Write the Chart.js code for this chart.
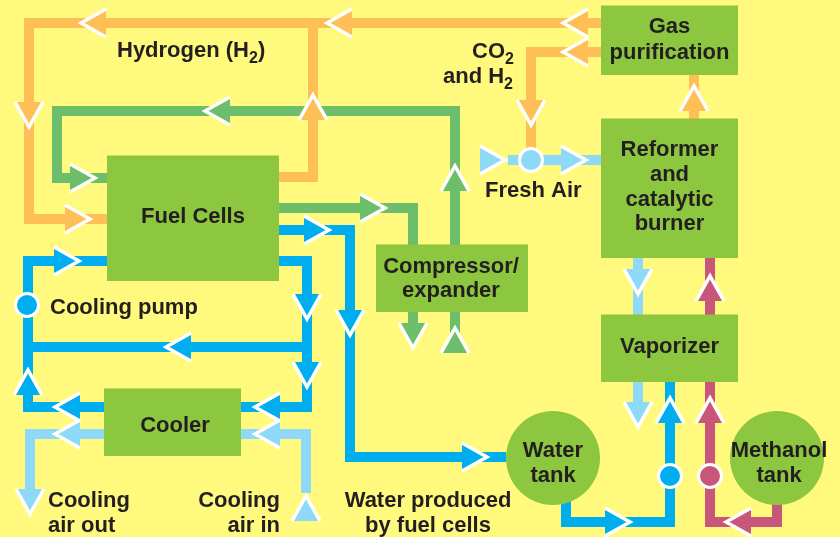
<!DOCTYPE html>
<html>
<head>
<meta charset="utf-8">
<script src="https://cdn.jsdelivr.net/npm/chart.js@4/dist/chart.umd.min.js"></script>
<style>
  html, body { margin: 0; padding: 0; background: #FFFA7D; overflow: hidden; }
  #wrap { width: 840px; height: 537px; }
  canvas { display: block; }
</style>
</head>
<body>
<div id="wrap"><canvas id="diagram" width="840" height="537"></canvas></div>
<script>
// diagram units follow the 840x537 drawing, y grows downward

// process blocks
const boxNames  = ["Gas purification", "Reformer", "Vaporizer", "Fuel Cells", "Compressor", "Cooler"];
const boxLeft   = [601, 601, 601, 107, 376, 104];
const boxTop    = [6, 119, 315, 156, 245, 389];
const boxRight  = [738, 738, 738, 279, 528, 241];
const boxBottom = [75, 258, 382, 281, 312, 456];

// storage tanks
const tankNames = ["Water tank", "Methanol tank"];
const tankX = [553, 777];
const tankY = [458, 458];

// pipes, one list per medium
const hydrogenPipes = [
  [[601,23],[29,23],[29,219],[107,219]],
  [[279,177],[313,177],[313,23]],
  [[601,52],[531,52],[531,150]],
  [[694,119],[694,75]]
];
const airPipes = [
  [[455,245],[455,111],[57,111],[57,178],[107,178]],
  [[279,208],[413,208],[413,245]],
  [[413,312],[413,340]],
  [[455,312],[455,335]]
];
const waterPipes = [
  [[104,407],[28,407],[28,261],[107,261]],
  [[279,261],[307,261],[307,407],[241,407]],
  [[307,347],[28,347]],
  [[279,230],[350,230],[350,457],[506,457]],
  [[566,495],[566,522],[670,522],[670,382]]
];
const lightPipes = [
  [[508,160],[601,160]],
  [[638,258],[638,315]],
  [[638,382],[638,412]],
  [[306,493],[306,434],[241,434]],
  [[104,434],[30,434],[30,495]]
];
const methanolPipes = [
  [[710,315],[710,258]],
  [[777,495],[777,522],[710,522],[710,382]]
];

// arrow tips: x, y, direction
const hydrogenArrows = [[78,23,"L"],[29,130,"D"],[93,219,"R"],[313,92,"U"],[324,23,"L"],[560,23,"L"],[560,52,"L"],[531,128,"D"],[694,83,"U"]];
const airArrows      = [[455,163,"U"],[202,111,"L"],[98,178,"R"],[388,208,"R"],[413,351,"D"],[455,325,"U"]];
const waterArrows    = [[82,261,"R"],[28,367,"U"],[52,407,"L"],[163,347,"L"],[307,322,"D"],[307,390,"D"],[252,407,"L"],[332,230,"R"],[350,338,"D"],[490,457,"R"],[633,522,"R"],[670,395,"U"]];
const lightArrows    = [[508,160,"R"],[589,160,"R"],[638,297,"D"],[638,430,"D"],[306,493,"U"],[252,434,"L"],[52,434,"L"],[30,517,"D"]];
const methanolArrows = [[710,273,"U"],[723,522,"L"],[710,395,"U"]];

// pumps
const pumpX    = [27, 531, 670, 710];
const pumpY    = [305, 160, 476, 476];
const pumpFlow = ["water", "light", "water", "methanol"];

// text: {n} marks a subscript digit
const labelText  = ["Hydrogen (H{2})", "CO{2}", "and H{2}", "Gas", "purification", "Reformer", "and", "catalytic", "burner",
                    "Fresh Air", "Fuel Cells", "Compressor/", "expander", "Cooling pump", "Vaporizer", "Cooler",
                    "Cooling", "air out", "Cooling", "air in", "Water produced", "by fuel cells", "Water", "tank", "Methanol", "tank"];
const labelX     = [117, 472, 443, 669.5, 669.5, 669.5, 669.5, 669.5, 669.5, 485, 193, 451, 451, 50, 669.5, 175,
                    48, 48, 280, 280, 428, 428, 553, 553, 779, 779];
const labelY     = [57, 58, 83, 33, 59, 156, 181, 205.5, 230, 197, 223, 273, 297, 314, 353, 432,
                    507, 532, 507, 532, 507, 532, 457, 482, 457, 482];
const labelAlign = ["left", "left", "left", "center", "center", "center", "center", "center", "center", "left", "center", "center", "center", "left", "center", "center",
                    "left", "left", "right", "right", "center", "center", "center", "center", "center", "center"];

const COLORS = {
  box: "#8DC63F",
  hydrogen: "#FEBF57",
  air: "#6CBE6B",
  water: "#00AEEF",
  light: "#8ED8F8",
  methanol: "#C8567B",
  text: "#231F20"
};
const FONT = "bold 22px 'Liberation Sans', Arial, sans-serif";
const SUB_FONT = "bold 16px 'Liberation Sans', Arial, sans-serif";
const ROT = { R: 0, D: 90, L: 180, U: 270 };

const datasets = [];

function pipeSet(paths, color) {
  paths.forEach(p => datasets.push({
    data: p.map(([x, y]) => ({ x, y })),
    showLine: true,
    borderColor: color,
    borderWidth: 10,
    borderJoinStyle: "miter",
    borderCapStyle: "butt",
    pointRadius: 0,
    fill: false,
    order: 5
  }));
}

// chevron arrowhead, tip sits in the middle of the canvas
function arrowImg(color) {
  const c = document.createElement("canvas");
  c.width = 64; c.height = 40;
  const g = c.getContext("2d");
  g.beginPath();
  g.moveTo(4, 6); g.lineTo(29, 20); g.lineTo(4, 34); g.closePath();
  g.fillStyle = color;
  g.fill();
  g.beginPath();
  g.moveTo(4, 6); g.lineTo(29, 20); g.lineTo(4, 34);
  g.strokeStyle = "#fff";
  g.lineWidth = 3.5;
  g.lineJoin = "miter";
  g.stroke();
  return c;
}

function arrowSet(list, color) {
  datasets.push({
    data: list.map(([x, y]) => ({ x, y })),
    pointStyle: arrowImg(color),
    pointRadius: 1,
    pointRotation: list.map(a => ROT[a[2]]),
    order: 1
  });
}

pipeSet(hydrogenPipes, COLORS.hydrogen);
pipeSet(airPipes, COLORS.air);
pipeSet(waterPipes, COLORS.water);
pipeSet(lightPipes, COLORS.light);
pipeSet(methanolPipes, COLORS.methanol);

boxNames.forEach((name, i) => datasets.push({
  label: name,
  data: [{ x: boxLeft[i], y: boxTop[i] }, { x: boxRight[i], y: boxTop[i] }],
  showLine: true,
  borderColor: COLORS.box,
  borderWidth: 1,
  backgroundColor: COLORS.box,
  fill: { value: boxBottom[i] },
  pointRadius: 0,
  order: 3
}));

datasets.push({
  label: "tanks",
  data: tankNames.map((n, i) => ({ x: tankX[i], y: tankY[i] })),
  pointStyle: "circle",
  pointRadius: 47,
  pointBackgroundColor: COLORS.box,
  pointBorderWidth: 0,
  order: 2
});

arrowSet(hydrogenArrows, COLORS.hydrogen);
arrowSet(airArrows, COLORS.air);
arrowSet(waterArrows, COLORS.water);
arrowSet(lightArrows, COLORS.light);
arrowSet(methanolArrows, COLORS.methanol);

datasets.push({
  label: "pumps",
  data: pumpX.map((x, i) => ({ x, y: pumpY[i] })),
  pointStyle: "circle",
  pointRadius: 11.5,
  pointBackgroundColor: pumpFlow.map(f => COLORS[f]),
  pointBorderColor: "#fff",
  pointBorderWidth: 3,
  order: 0
});

const labelPlugin = {
  id: "labels",
  afterDatasetsDraw(chart) {
    const { ctx, scales: { x, y } } = chart;
    ctx.save();
    ctx.fillStyle = COLORS.text;
    ctx.textBaseline = "alphabetic";
    ctx.textAlign = "left";
    labelText.forEach((txt, i) => {
      const parts = txt.split(/\{(\d)\}/);
      let w = 0;
      parts.forEach((p, k) => { ctx.font = k % 2 ? SUB_FONT : FONT; w += ctx.measureText(p).width; });
      let px = x.getPixelForValue(labelX[i]);
      const py = y.getPixelForValue(labelY[i]);
      if (labelAlign[i] === "center") px -= w / 2;
      else if (labelAlign[i] === "right") px -= w;
      parts.forEach((p, k) => {
        ctx.font = k % 2 ? SUB_FONT : FONT;
        ctx.fillText(p, px, k % 2 ? py + 6 : py);
        px += ctx.measureText(p).width;
      });
    });
    ctx.restore();
  }
};

new Chart(document.getElementById("diagram"), {
  type: "scatter",
  data: { datasets },
  options: {
    responsive: false,
    animation: false,
    events: [],
    layout: { padding: 0, autoPadding: false },
    scales: {
      x: { type: "linear", min: 0, max: 840, display: false },
      y: { type: "linear", min: 0, max: 537, reverse: true, display: false }
    },
    plugins: {
      legend: { display: false },
      tooltip: { enabled: false }
    }
  },
  plugins: [labelPlugin]
});
</script>
</body>
</html>
